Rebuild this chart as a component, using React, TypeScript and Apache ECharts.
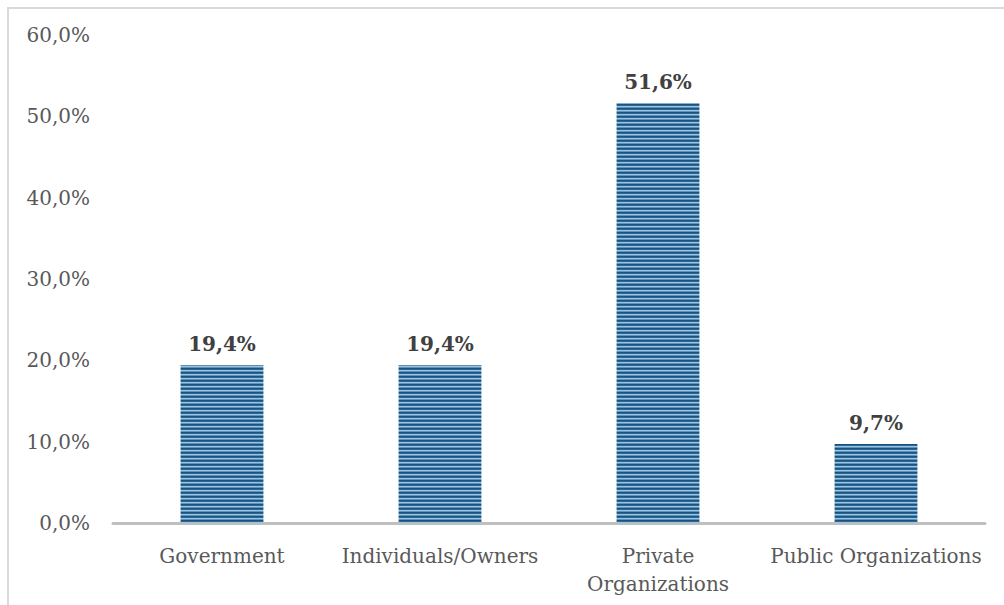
import React, { useEffect, useRef } from "react";
import * as echarts from "echarts";

const categories = ["Government", "Individuals/Owners", "Private Organizations", "Public Organizations"];
const shares = [19.4, 19.4, 51.6, 9.7];
const yTicks = { min: 0, max: 60, interval: 10 };

const fmt = (v: number) => v.toFixed(1).replace(".", ",") + "%";

function makeStripes(): HTMLCanvasElement {
  const c = document.createElement("canvas");
  c.width = 4;
  c.height = 4;
  const ctx = c.getContext("2d")!;
  const rows = ["#1a5280", "#2c6693", "#9cc4df", "#5d93bc"];
  rows.forEach((col, i) => {
    ctx.fillStyle = col;
    ctx.fillRect(0, i, 4, 1);
  });
  return c;
}

export default function App() {
  const ref = useRef<HTMLDivElement>(null);
  useEffect(() => {
    if (!ref.current) return;
    const chart = echarts.init(ref.current, null, { renderer: "svg" });
    const font = "'DejaVu Serif', serif";
    chart.setOption({
      animation: false,
      backgroundColor: "#ffffff",
      graphic: [
        {
          type: "rect",
          shape: { x: 8, y: 8, width: 1020, height: 620 },
          style: { fill: "none", stroke: "#d9d9d9", lineWidth: 2 },
          silent: true,
        },
      ],
      grid: { left: 113, right: 19, top: 35, bottom: 82, containLabel: false },
      xAxis: {
        type: "category",
        data: categories,
        axisLine: { show: true, lineStyle: { color: "#bfbfbf", width: 3 } },
        axisTick: { show: false },
        axisLabel: {
          color: "#595959",
          fontFamily: font,
          fontSize: 20,
          margin: 19,
          lineHeight: 28,
          interval: 0,
          formatter: (v: string) => (v === "Private Organizations" ? "Private\nOrganizations" : v),
        },
      },
      yAxis: {
        type: "value",
        min: yTicks.min,
        max: yTicks.max,
        interval: yTicks.interval,
        axisLine: { show: false },
        axisTick: { show: false },
        splitLine: { show: false },
        axisLabel: {
          color: "#595959",
          fontFamily: font,
          fontSize: 20,
          margin: 23,
          formatter: (v: number) => fmt(v),
        },
      },
      series: [
        {
          type: "bar",
          data: shares,
          barWidth: "38%",
          itemStyle: { color: { image: makeStripes(), repeat: "repeat" } },
          label: {
            show: true,
            position: "top",
            distance: 11,
            color: "#404040",
            fontFamily: font,
            fontWeight: "bold",
            fontSize: 20,
            formatter: (p: any) => fmt(p.value),
          },
        },
      ],
    });
    return () => chart.dispose();
  }, []);
  return (
    <div
      ref={ref}
      style={{ position: "fixed", left: 0, top: 0, width: 1004, height: 605 }}
    />
  );
}
